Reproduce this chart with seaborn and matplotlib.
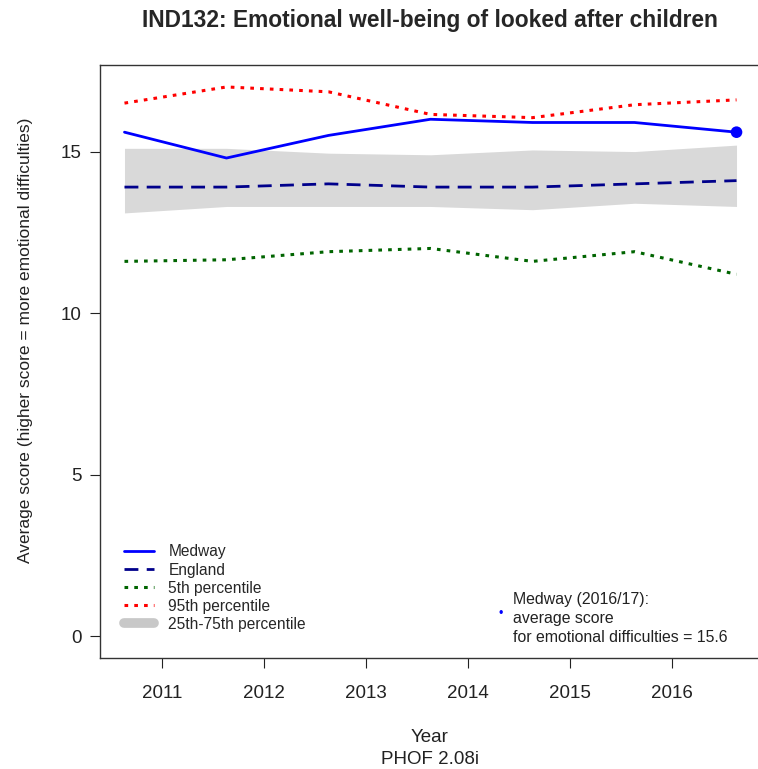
import numpy as np
import pandas as pd
import matplotlib
matplotlib.use("Agg")
import matplotlib.pyplot as plt
import seaborn as sns
from matplotlib.lines import Line2D

# data
years = [2010.63, 2011.63, 2012.63, 2013.63, 2014.63, 2015.63, 2016.63]
medway = [15.6, 14.8, 15.5, 16.0, 15.9, 15.9, 15.6]
england = [13.9, 13.9, 14.0, 13.9, 13.9, 14.0, 14.1]
p5 = [11.6, 11.65, 11.9, 12.0, 11.6, 11.9, 11.2]
p95 = [16.5, 17.0, 16.85, 16.15, 16.05, 16.45, 16.6]
p25 = [13.1, 13.3, 13.3, 13.3, 13.2, 13.4, 13.3]
p75 = [15.1, 15.1, 14.95, 14.9, 15.05, 15.0, 15.2]
tick_years = [2011, 2012, 2013, 2014, 2015, 2016]
y_ticks = [0, 5, 10, 15]

df = pd.DataFrame({"year": years, "Medway": medway, "England": england,
                   "p5": p5, "p95": p95, "p25": p25, "p75": p75})

sns.set_style("white")
plt.rcParams["font.family"] = ["Liberation Sans", "DejaVu Sans"]

fig = plt.figure(figsize=(7.58, 7.69), dpi=100)
ax = fig.add_axes([100 / 758, 111 / 769, 661 / 758, 593 / 769])

# interquartile band
ax.fill_between(df["year"], df["p25"], df["p75"], color="#d9d9d9", lw=0)

sns.lineplot(data=df, x="year", y="p95", ax=ax, color="#ff0000", lw=2.2,
             linestyle=(0, (1.2, 2.0)))
sns.lineplot(data=df, x="year", y="p5", ax=ax, color="#006400", lw=2.2,
             linestyle=(0, (1.2, 2.0)))
sns.lineplot(data=df, x="year", y="England", ax=ax, color="#00008b", lw=2.0,
             linestyle=(0, (5, 3)))
sns.lineplot(data=df, x="year", y="Medway", ax=ax, color="#0000ff", lw=2.0)
sns.scatterplot(x=[years[-1]], y=[medway[-1]], ax=ax, color="#0000ff", s=70,
                edgecolor="none", zorder=5)

ax.set_xlim(2010.39, 2016.87)
ax.set_ylim(-0.68, 17.68)
ax.set_xticks(tick_years)
ax.set_xticklabels([str(y) for y in tick_years])
ax.set_yticks(y_ticks)
ax.set_yticklabels([str(v) for v in y_ticks])
ax.tick_params(axis="x", direction="out", length=7.5, width=0.8, pad=12,
               labelsize=13.5, colors="#222222", bottom=True)
ax.tick_params(axis="y", direction="out", length=7.5, width=0.8, pad=6,
               labelsize=13.5, colors="#222222", left=True)
ax.set_xlabel("")
ax.set_ylabel("")
for s in ax.spines.values():
    s.set_color("#333333")
    s.set_linewidth(1.0)

# legend
handles = [
    Line2D([], [], color="#0000ff", lw=2.0),
    Line2D([], [], color="#00008b", lw=2.0, linestyle=(0, (5, 3))),
    Line2D([], [], color="#006400", lw=2.2, linestyle=(0, (1.2, 2.0))),
    Line2D([], [], color="#ff0000", lw=2.2, linestyle=(0, (1.2, 2.0))),
    Line2D([], [], color="#c8c8c8", lw=7, solid_capstyle="round"),
]
labels = ["Medway", "England", "5th percentile", "95th percentile",
          "25th-75th percentile"]
ax.legend(handles, labels, loc="lower left",
          bbox_to_anchor=(21 / 661, 23 / 593),
          frameon=False, fontsize=11.2, handlelength=1.95, handletextpad=0.9,
          labelspacing=0.2, borderaxespad=0.0, borderpad=0.2)

# annotation
fig.text(501 / 758, 1 - 614 / 769, "\u2022", color="#0000ff", fontsize=9,
         ha="center", va="center")
fig.text(513 / 758, 1 - 592 / 769,
         "Medway (2016/17):\naverage score\nfor emotional difficulties = 15.6",
         fontsize=11.4, ha="left", va="top", linespacing=1.33, color="#222222")

fig.text(430 / 758, 1 - 20 / 769,
         "IND132: Emotional well-being of looked after children",
         fontsize=16.4, fontweight="bold", ha="center", va="center")
fig.text(26 / 758, 1 - 340 / 769,
         "Average score (higher score = more emotional difficulties)",
         fontsize=12.5, rotation=90, ha="center", va="center", color="#222222")
fig.text(430 / 758, 1 - 738 / 769, "Year", fontsize=13.5, ha="center",
         va="center", color="#222222")
fig.text(430 / 758, 1 - 760 / 769, "PHOF 2.08i", fontsize=13.5, ha="center",
         va="center", color="#222222")

fig.savefig("out.png", dpi=100, facecolor="white")
